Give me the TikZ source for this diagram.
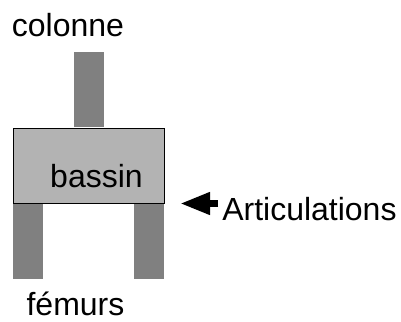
\documentclass[tikz,border=0pt]{standalone}
\usepackage{fontspec}
\setmainfont{Liberation Sans}
\usetikzlibrary{arrows.meta}
\definecolor{bone}{RGB}{128,128,128}
\definecolor{pelvis}{RGB}{179,179,179}
\begin{document}
\begin{tikzpicture}[x=0.75pt,y=-0.75pt,
  lbl/.style={inner sep=0pt,font=\fontsize{24}{29}\selectfont},
  bonebar/.style={fill=bone,inner sep=0pt,minimum width=22.5pt,minimum height=56.5pt},
  pelvisbox/.style={fill=pelvis,draw=black,line width=0.6pt,inner sep=0pt,minimum width=113.25pt,minimum height=56.25pt},
  pointer/.style={line width=5.25pt,-{Triangle[length=22.5pt,width=15.75pt]}}]
\useasboundingbox (0,0) rectangle (401,322);
\node[bonebar] (col) at (89,89.5) {};
\node[bonebar] (legL) at (28,241) {};
\node[bonebar] (legR) at (149,241) {};
\node[pelvisbox] (bassin) at (88.5,165.5) {};
\node[lbl,anchor=base] (bassintxt) at (96.5,187) {bassin};
\node[lbl,anchor=base] (colonne) at (68,36) {colonne};
\node[lbl,anchor=base] (femurs) at (75.5,315) {fémurs};
\node[lbl,anchor=base west] (artic) at (222,220) {Articulations};
\coordinate (arrstart) at (218,203.5);
\coordinate (arrtip) at (180,203.5);
\draw[pointer] (arrstart) -- (arrtip);
\end{tikzpicture}
\end{document}
